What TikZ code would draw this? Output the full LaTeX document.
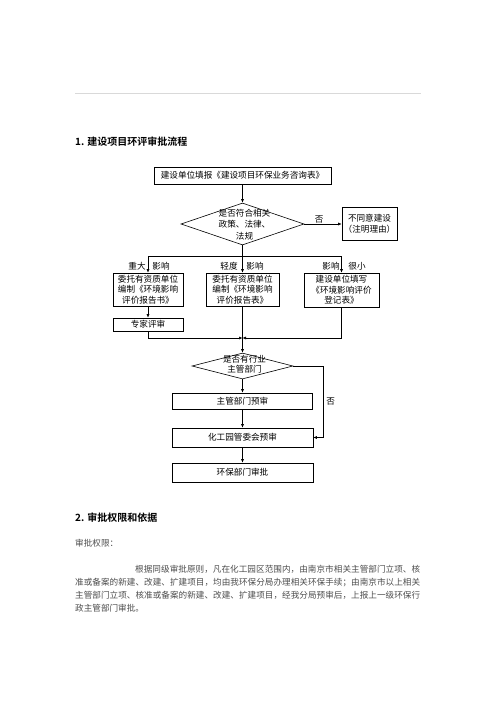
\documentclass[tikz,border=0pt]{standalone}
\usepackage{fontspec}
\setmainfont{Noto Sans CJK SC}[BoldFont={Noto Sans CJK SC Bold}]
\XeTeXlinebreaklocale "zh"
\XeTeXlinebreakskip=0pt plus 1pt
\usetikzlibrary{shapes.geometric,arrows.meta}

\tikzset{
  flow/.style={font=\fontsize{8.6}{10.5}\selectfont,inner sep=1pt},
  box/.style={flow,draw,line width=0.6pt,inner sep=0pt,align=center},
  decision/.style={draw,diamond,line width=0.6pt,inner sep=0pt},
  wire/.style={line width=0.6pt},
  link/.style={wire,-{Latex[length=3.5pt,width=3pt]}},
  heading/.style={font=\fontsize{10}{12}\selectfont\bfseries,anchor=west,inner sep=0pt},
  body/.style={font=\fontsize{8.6}{13}\selectfont,text=black!70,inner sep=0pt},
}

\begin{document}
\begin{tikzpicture}[x=1pt,y=-1pt]
  % Define dimensions
  \def\axis{242.5}
  \def\forky{256}
  \def\joiny{338}
  % Page frame
  \useasboundingbox (0,0) rectangle (496,702);
  \draw[black!15,line width=0.8pt] (75,93) -- (421,93);
  \node[heading] (head1) at (75,142) {1. 建设项目环评审批流程};

  % Flow chart boxes
  \node[box,minimum width=177pt,minimum height=17pt] (apply) at (\axis,175.5) {建设单位填报《建设项目环保业务咨询表》};
  \node[decision,minimum width=123pt,minimum height=42pt] (legal) at (\axis,224) {};
  \node[flow,align=center] (legaltxt) at (\axis+2,225) {是否符合相关\\政策、法律、\\[2pt]法规};
  \node[box,minimum width=55pt,minimum height=33pt] (refuse) at (369.5,224) {不同意建设\\（注明理由）};
  \node[box,minimum width=70pt,minimum height=33pt] (report) at (148,289.5) {委托有资质单位\\编制《环境影响\\评价报告书》};
  \node[box,minimum width=73pt,minimum height=33pt] (table) at (\axis,289.5) {委托有资质单位\\编制《环境影响\\评价报告表》};
  \node[box,minimum width=75pt,minimum height=34pt] (register) at (341.5,290) {建设单位填写\\《环境影响评价\\登记表》};
  \node[box,minimum width=70pt,minimum height=13pt] (expert) at (148,324.5) {专家评审};
  \node[decision,minimum width=101pt,minimum height=26pt] (dept) at (\axis,366) {};
  \node[flow,align=center] (depttxt) at (\axis+2,364) {是否有行业\\主管部门};
  \node[box,minimum width=140pt,minimum height=16pt] (pre) at (\axis,401) {主管部门预审};
  \node[box,minimum width=141pt,minimum height=19pt] (park) at (\axis,437.5) {化工园管委会预审};
  \node[box,minimum width=141pt,minimum height=19pt] (final) at (\axis,472.5) {环保部门审批};

  % Branch labels
  \node[flow] (big1) at (137,266) {重大};
  \node[flow] (big2) at (161,266) {影响};
  \node[flow] (mid1) at (229,266) {轻度};
  \node[flow] (mid2) at (255,266) {影响};
  \node[flow] (low1) at (331,266) {影响};
  \node[flow] (low2) at (357,266) {很小};

  % Connectors
  \coordinate (fork) at (\axis,\forky);
  \coordinate (forkL) at (148,\forky);
  \coordinate (forkR) at (341.5,\forky);
  \coordinate (join) at (\axis,\joiny);
  \coordinate (bend) at (323,366);
  \draw[link] (apply) -- (legal);
  \draw[link] (legal.east) -- node[flow,above,pos=0.4] (no1) {否} (refuse);
  \draw[wire] (legal.south) -- (fork);
  \draw[wire] (forkL) -- (forkR);
  \draw[link] (forkL) -- (report);
  \draw[link] (fork) -- (table);
  \draw[link] (forkR) -- (register);
  \draw[link] (report) -- (expert);
  \draw[link] (expert.south) |- (join);
  \draw[link] (register.south) |- (join);
  \draw[wire] (table) -- (join);
  \draw[link] (join) -- (dept);
  \draw[link] (dept) -- (pre);
  \draw[link] (pre) -- (park);
  \draw[link] (park) -- (final);
  \draw[link] (dept.east) -- (bend) |- node[flow,right,pos=0.25,xshift=2pt] (no2) {否} (park.east);

  % Second section
  \node[heading] (head2) at (75,518) {2. 审批权限和依据};
  \node[body,anchor=west] (scope) at (75,543) {审批权限：};
  \node[body,anchor=north west,text width=345pt,align=justify] (rule) at (75,565) {\hspace*{60pt}根据同级审批原则，凡在化工园区范围内，由南京市相关主管部门立项、核\linebreak 准或备案的新建、改建、扩建项目，均由我环保分局办理相关环保手续；由南京市以上相关\linebreak 主管部门立项、核准或备案的新建、改建、扩建项目，经我分局预审后，上报上一级环保行\linebreak 政主管部门审批。};
\end{tikzpicture}
\end{document}
